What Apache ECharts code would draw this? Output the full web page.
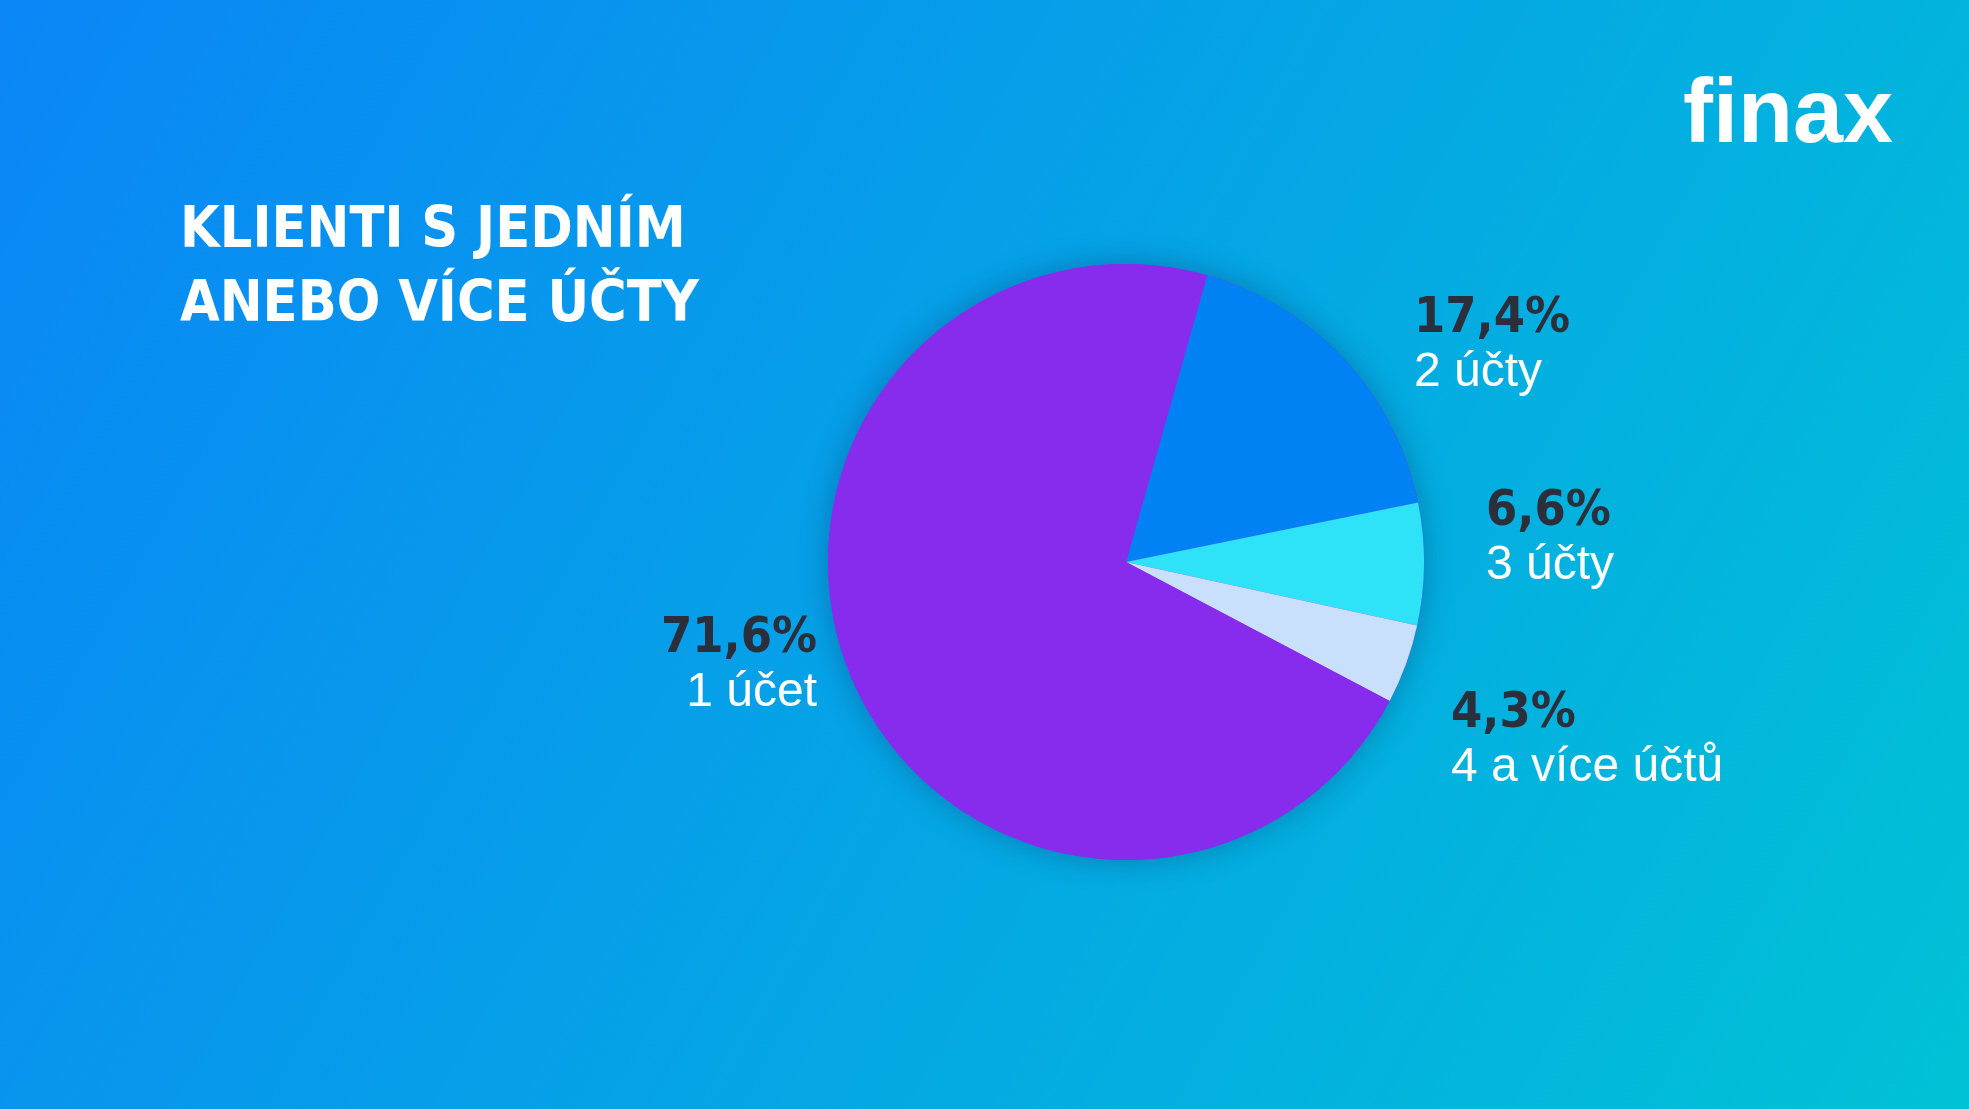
<!DOCTYPE html>
<html>
<head>
<meta charset="utf-8">
<script src="https://cdn.jsdelivr.net/npm/echarts@6/dist/echarts.min.js"></script>
<style>
  html, body { margin: 0; padding: 0; }
  #chart { width: 1969px; height: 1109px; }
</style>
</head>
<body>
<div id="chart"></div>
<script>
// data
const categories = ['2 účty', '3 účty', '4 a více účtů', '1 účet'];
const shares = [17.4, 6.6, 4.3, 71.6];
const sliceColors = ['#0082f5', '#2ee2f8', '#c8e0fb', '#872cec'];
const titleLines = ['KLIENTI S JEDNÍM', 'ANEBO VÍCE ÚČTY'];

// where the labels sit
const labelPos = [
  { x: 1414, y: 345, align: 'left' },
  { x: 1486, y: 538, align: 'left' },
  { x: 1451, y: 740, align: 'left' },
  { x: 817, y: 665, align: 'right' }
];

const condensed = 'Liberation Sans Narrow, DejaVu Sans Condensed, sans-serif';
const center = [1126, 562];
const radius = 298;

let chart = echarts.init(document.getElementById('chart'));

let option = {
  backgroundColor: new echarts.graphic.LinearGradient(0, 0, 1, 1, [
    { offset: 0, color: '#0a86f6' },
    { offset: 1, color: '#00c2d6' }
  ]),
  title: {
    text: titleLines.join('\n'),
    left: 175,
    top: 190,
    textStyle: {
      color: '#fff',
      fontFamily: condensed,
      fontWeight: 'bold',
      fontSize: 57,
      lineHeight: 74
    }
  },
  graphic: [{
    type: 'text',
    left: 1683,
    top: 72,
    style: {
      text: 'finax',
      fill: '#fff',
      font: 'bold 90px Liberation Sans, Arial, sans-serif'
    }
  }],
  series: [{
    // shadow disc behind the slices
    type: 'pie',
    center: center,
    radius: radius,
    silent: true,
    z: 1,
    label: { show: false },
    data: [{ value: 1, itemStyle: { color: '#872cec', shadowBlur: 30, shadowColor: 'rgba(0, 40, 90, 0.35)' } }]
  }, {
    type: 'pie',
    center: center,
    radius: radius,
    startAngle: 74.2,
    clockwise: true,
    silent: true,
    z: 2,
    data: categories.map((name, i) => ({
      name: name,
      value: shares[i],
      itemStyle: { color: sliceColors[i] }
    })),
    labelLine: { show: false },
    label: {
      show: true,
      position: 'outside',
      formatter: p => '{v|' + p.value.toFixed(1).replace('.', ',') + '%}\n{n|' + p.name + '}',
      rich: {
        v: {
          color: '#2a2f3b',
          fontFamily: condensed,
          fontWeight: 'bold',
          fontSize: 50,
          lineHeight: 56
        },
        n: {
          color: '#fff',
          fontFamily: 'Liberation Sans, Arial, sans-serif',
          fontSize: 48,
          lineHeight: 52
        }
      }
    },
    labelLayout: function(params) {
      let p = labelPos[params.dataIndex];
      return { x: p.x, y: p.y, align: p.align, verticalAlign: 'middle' };
    }
  }]
};

chart.setOption(option);
</script>
</body>
</html>
